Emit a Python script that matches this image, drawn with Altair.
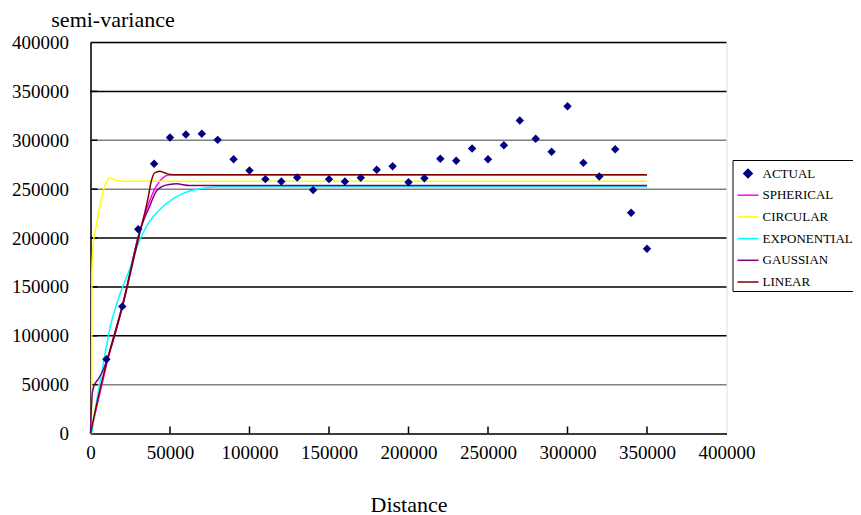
import altair as alt
import pandas as pd

# ---------------- data ----------------
series_names = ["ACTUAL", "SPHERICAL", "CIRCULAR", "EXPONENTIAL", "GAUSSIAN", "LINEAR"]
series_colors = ["#000080", "#FF00FF", "#FFFF00", "#00FFFF", "#800080", "#800000"]
DIAMOND = "M0,-0.4L0.4,0L0,0.4L-0.4,0Z"
series_shapes = [DIAMOND, "stroke", "stroke", "stroke", "stroke", "stroke"]

actual_x = [10000, 20000, 30000, 40000, 50000, 60000, 70000, 80000, 90000, 100000,
            110000, 120000, 130000, 140000, 150000, 160000, 170000, 180000, 190000, 200000,
            210000, 220000, 230000, 240000, 250000, 260000, 270000, 280000, 290000, 300000,
            310000, 320000, 330000, 340000, 350000]
actual_y = [76000, 130000, 209000, 276000, 302800, 305900, 306600, 300400, 280600, 269000,
            260200, 257800, 261900, 249000, 260200, 257800, 261600, 269800, 273400, 257100,
            261200, 281000, 279000, 291600, 280600, 294900, 320200, 301500, 288200, 334800,
            276900, 262900, 290800, 225800, 189000]

spherical_x = [0, 5000, 10500, 20300, 31000, 37200, 41400, 45500, 50000, 350000]
spherical_y = [0, 35000, 73000, 133000, 207000, 238000, 253000, 261500, 264600, 264600]

circular_x = [700, 850, 1800, 3600, 6700, 9900, 12000, 15100, 19300, 350000]
circular_y = [0, 165000, 195000, 212000, 239000, 256500, 261000, 259800, 258000, 258000]

exponential_x = [800, 3000, 5700, 9000, 12000, 18000, 24600, 30900, 36000, 43500,
                 51800, 62400, 72900, 81000, 350000]
exponential_y = [0, 25000, 50000, 80000, 106000, 140000, 168000, 198000, 214000, 229000,
                 240000, 248000, 251500, 252400, 252400]

gaussian_x = [0, 400, 1200, 2500, 4600, 7700, 10500, 20300, 31000, 37200, 41400,
              45500, 49700, 54000, 62400, 350000]
gaussian_y = [0, 20000, 42000, 50000, 55000, 64000, 76000, 131000, 207000, 232500, 248000,
              253000, 254700, 255400, 253700, 253700]

linear_x = [0, 5000, 10500, 20300, 31000, 34000, 36100, 38200, 40300, 43500, 46600,
            50000, 55000, 350000]
linear_y = [0, 38000, 75000, 132000, 205000, 225000, 240000, 258000, 266500, 268400, 266700,
            265000, 264600, 264600]

grid_values = [50000, 100000, 150000, 200000, 250000, 300000, 350000, 400000]
grid_colors = ["#808080", "#000000", "#000000", "#000000", "#808080", "#808080", "#000000", "#000000"]
x_tick_values = [50000, 100000, 150000, 200000, 250000, 300000, 350000]
y_tick_values = [50000, 100000, 150000, 200000, 250000, 300000, 350000]
axis_values = [0, 50000, 100000, 150000, 200000, 250000, 300000, 350000, 400000]

# ---------------- tables ----------------
models = [("SPHERICAL", spherical_x, spherical_y),
          ("CIRCULAR", circular_x, circular_y),
          ("EXPONENTIAL", exponential_x, exponential_y),
          ("GAUSSIAN", gaussian_x, gaussian_y),
          ("LINEAR", linear_x, linear_y)]
rows = []
for k, (name, xs, ys) in enumerate(models):
    for a, b in zip(xs, ys):
        rows.append({"series": name, "x": a, "y": b, "ord": k})
model_df = pd.DataFrame(rows)
actual_df = pd.DataFrame({"series": "ACTUAL", "x": actual_x, "y": actual_y})
grid_df = pd.DataFrame({"v": grid_values, "c": grid_colors})
xt_df = pd.DataFrame({"t": x_tick_values})
yt_df = pd.DataFrame({"t": y_tick_values})

FONT = "Liberation Serif"
W, H = 636, 391
TOTAL_W, TOTAL_H = 845, 507
PAD_L, PAD_T = 82.5, 34.5

xscale = alt.Scale(domain=[0, 400000], nice=False, zero=True)
yscale = alt.Scale(domain=[0, 400000], nice=False, zero=True)

xaxis = alt.Axis(title="Distance", values=axis_values,
                 format="d", grid=False, ticks=False, tickSize=0, labelPadding=10,
                 labelFont=FONT, labelFontSize=19, labelColor="black", labelFlush=False,
                 labelOverlap=False, domainColor="black", domainWidth=1.5,
                 titleFont=FONT, titleFontSize=22, titleFontWeight="normal", titleColor="black",
                 titleY=77.5, titleBaseline="alphabetic")
yaxis = alt.Axis(title="semi-variance", values=axis_values,
                 format="d", grid=False, ticks=False, tickSize=0, labelPadding=22,
                 labelFont=FONT, labelFontSize=19, labelColor="black", labelFlush=False,
                 labelOverlap=False, domainColor="black", domainWidth=1.5,
                 titleFont=FONT, titleFontSize=22, titleFontWeight="normal", titleColor="black",
                 titleAngle=0, titleX=22, titleY=-16.5, titleAlign="center",
                 titleBaseline="alphabetic")

color_scale = alt.Scale(domain=series_names, range=series_colors)
shape_scale = alt.Scale(domain=series_names, range=series_shapes)

legend = alt.Legend(
    title=None, orient="none", legendX=642, legendY=117.5, direction="vertical",
    strokeColor="black", fillColor="white", padding=2, symbolOffset=2, labelOffset=3,
    rowPadding=2.7, labelFont=FONT, labelFontSize=13, labelColor="black",
    symbolSize=441, symbolStrokeWidth=1.5, labelLimit=200, symbolFillColor="#000080")

grid = alt.Chart(grid_df).mark_rule(strokeWidth=1.5).encode(
    y=alt.Y("v:Q", scale=yscale, axis=yaxis),
    stroke=alt.Stroke("c:N", scale=None))

xticks = alt.Chart(xt_df).mark_rule(color="black", strokeWidth=1.5).encode(
    x=alt.X("t:Q", scale=xscale, axis=xaxis),
    y=alt.value(H), y2=alt.value(H - 7))

yticks = alt.Chart(yt_df).mark_rule(color="black", strokeWidth=1.5).encode(
    y=alt.Y("t:Q", scale=yscale, axis=yaxis),
    x=alt.value(0), x2=alt.value(7))

lines = alt.Chart(model_df).mark_line(strokeWidth=1.5, interpolate="monotone").encode(
    x=alt.X("x:Q", scale=xscale, axis=xaxis),
    y=alt.Y("y:Q", scale=yscale, axis=yaxis),
    color=alt.Color("series:N", scale=color_scale, legend=legend),
    order=alt.Order("ord:Q"))

points = alt.Chart(actual_df).mark_point(filled=True, opacity=1, size=441).encode(
    x=alt.X("x:Q", scale=xscale, axis=xaxis),
    y=alt.Y("y:Q", scale=yscale, axis=yaxis),
    color=alt.Color("series:N", scale=color_scale, legend=legend),
    shape=alt.Shape("series:N", scale=shape_scale, legend=legend))

chart = alt.layer(grid, xticks, yticks, lines, points).properties(
    width=W, height=H,
    autosize=alt.AutoSizeParams(type="none"),
    padding={"left": PAD_L, "top": PAD_T, "right": TOTAL_W - PAD_L - W, "bottom": TOTAL_H - PAD_T - H},
).configure_view(stroke="black", strokeWidth=1.5).configure(background="white")

chart.save("out.html", embed_options={"renderer": "svg", "actions": False})
